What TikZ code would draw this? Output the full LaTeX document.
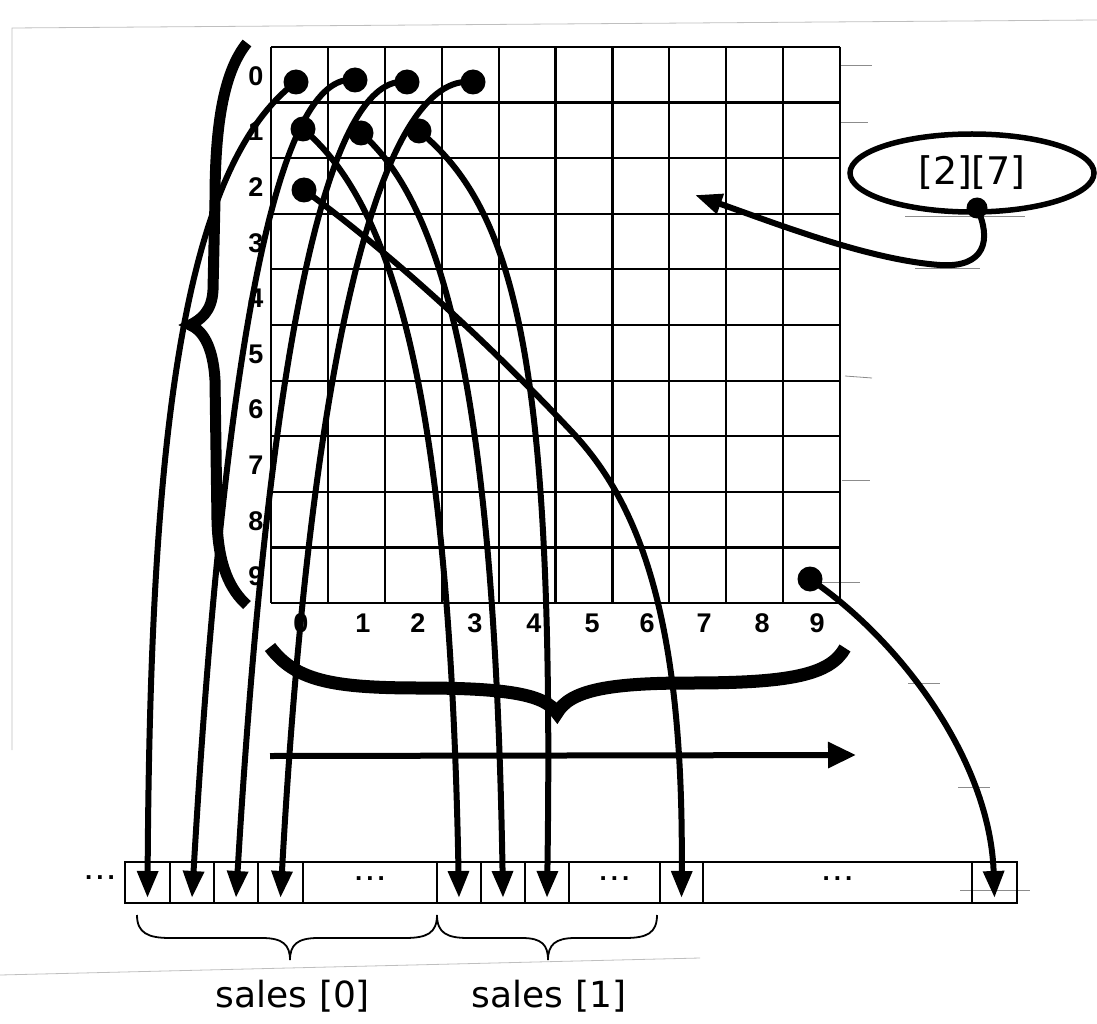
\documentclass[tikz,border=0pt]{standalone}
\usepackage{fontspec}
\newfontfamily\dvs{DejaVu Sans}
\newfontfamily\arl{Liberation Sans}
\usetikzlibrary{arrows.meta,shapes.geometric}
\begin{document}
\begin{tikzpicture}[x=1pt,y=-1pt,
  gridline/.style={line width=2.2pt},
  dotnode/.style={circle, fill=black, minimum size=25pt, inner sep=0pt},
  link/.style={line width=6pt, -{Triangle[length=27pt,width=20pt]}},
  cellbox/.style={draw, line width=2pt, minimum height=41pt, inner sep=0pt},
  lbl/.style={font=\arl\bfseries\fontsize{27}{27}\selectfont, inner sep=0pt},
  dots/.style={font=\arl\bfseries\fontsize{26}{26}\selectfont, inner sep=0pt},
  bigtxt/.style={font=\dvs\fontsize{36}{36}\selectfont, inner sep=0pt},
  thinbrace/.style={line width=1.8pt},
  thickbrace/.style={line width=13pt},
  scanedge/.style={line width=0.8pt, black!25},
  tick/.style={line width=0.8pt, black!45}
]
\useasboundingbox (0,0) rectangle (1097,1024);

% faint scan edges
\draw[scanedge] (12,750) -- (12,28) -- (1097,20);
\draw[scanedge] (0,975) -- (700,958);
\draw[tick] (840,65) -- (872,65);
\draw[tick] (840,122) -- (868,122);
\draw[tick] (845,376) -- (872,378);
\draw[tick] (842,480) -- (870,480);
\draw[tick] (800,582) -- (860,582);
\draw[tick] (905,216) -- (1025,216);
\draw[tick] (915,268) -- (980,268);
\draw[tick] (908,683) -- (940,683);
\draw[tick] (958,787) -- (990,787);
\draw[tick] (960,890) -- (1030,890);

% grid
\foreach \i in {0,...,10} {
  \draw[gridline] ({271+56.9*\i},47) -- ({271+56.9*\i},603);
  \draw[gridline] (271,{47+55.6*\i}) -- (840,{47+55.6*\i});
}

% row labels
\foreach \r in {0,...,9} {
  \node[lbl] (row\r) at (256,{76+55.6*\r}) {\r};
}
% column labels
\foreach \c/\x in {0/301,1/363,2/418,3/475,4/534,5/592,6/647,7/704,8/762,9/817} {
  \node[lbl] (col\c) at (\x,623) {\c};
}

% thick braces
\draw[thickbrace, line width=11pt] (247,43) .. controls (225,70) and (215,120) .. (215,200)
  -- (213,290) .. controls (212,312) and (200,320) .. (190,325)
  .. controls (202,330) and (213,345) .. (215,380)
  -- (217,520) .. controls (218,565) and (230,590) .. (247,605);
\draw[thickbrace] (270,647) .. controls (295,680) and (330,688) .. (420,688)
  .. controls (510,688) and (545,695) .. (557,713)
  .. controls (570,690) and (610,683) .. (690,683)
  .. controls (790,683) and (830,675) .. (845,648);

% horizontal arrow
\coordinate (ha) at (270,756);
\coordinate (hb) at (856,755);
\draw[line width=6pt, -{Triangle[length=28pt,width=25pt]}] (ha) -- (hb);

% bottom array
\foreach \n/\a/\b in {c0/125/170, c1/170/214, c2/214/258, c3/258/303, cdA/303/437,
  c10/437/481, c11/481/525, c12/525/569, cdB/569/660, c20/660/703, cdC/703/972, c99/972/1017} {
  \node[cellbox, minimum width={(\b-\a)*1pt}] (\n) at ({(\a+\b)/2},882.5) {};
}
\node[dots] (dl) at (100,878) {.\hspace{4pt}.\hspace{4pt}.};
\node[dots] (dA) at ([yshift=4pt]cdA) {.\hspace{4pt}.\hspace{4pt}.};
\node[dots] (dB) at ([yshift=4pt]cdB) {.\hspace{4pt}.\hspace{4pt}.};
\node[dots] (dC) at ([yshift=4pt]cdC) {.\hspace{4pt}.\hspace{4pt}.};

\foreach \n in {c0,c1,c2,c3,c10,c11,c12,c20,c99} {
  \coordinate (t\n) at ([yshift=6pt]\n.south);
}

% dots in the grid
\node[dotnode] (d00) at (296,82) {};
\node[dotnode] (d01) at (355,80) {};
\node[dotnode] (d02) at (407,82) {};
\node[dotnode] (d03) at (473,82) {};
\node[dotnode] (d10) at (303,129) {};
\node[dotnode] (d11) at (361,133) {};
\node[dotnode] (d12) at (419,131) {};
\node[dotnode] (d20) at (304,190) {};
\node[dotnode] (d99) at (810,579) {};

% connectors
\draw[link] (d00.center) .. controls (180,170) and (150,450) .. (tc0);
\draw[link] (d01.center) .. controls (280,70) and (225,330) .. (tc1);
\draw[link] (d02.center) .. controls (330,72) and (270,330) .. (tc2);
\draw[link] (d03.center) .. controls (385,72) and (312,330) .. (tc3);
\draw[link] (d10.center) .. controls (400,210) and (450,420) .. (tc10);
\draw[link] (d11.center) .. controls (450,210) and (495,420) .. (tc11);
\draw[link] (d12.center) .. controls (515,210) and (555,360) .. (tc12);
\draw[link] (d20.center) .. controls (400,260) and (500,355) .. (573,433)
  .. controls (640,505) and (684,620) .. (tc20);
\draw[link] (d99.center) .. controls (900,640) and (990,760) .. (tc99);

% ellipse [2][7]
\node[draw, ellipse, line width=5.5pt, minimum width=244pt, minimum height=78pt, inner sep=0pt,
  font=\dvs\fontsize{38}{38}\selectfont] (e) at (972,173) {[2][7]};
\node[dotnode, minimum size=21pt] (ed) at (977,208) {};
\coordinate (c27) at (695,195);
\draw[link] (ed.center) .. controls (992,240) and (985,268) .. (940,265)
  .. controls (870,260) and (780,225) .. (c27);

% thin braces and labels
\draw[thinbrace] (137,915) .. controls (137,933) and (148,938) .. (170,938) -- (262,938)
  .. controls (283,938) and (290,945) .. (290,960)
  .. controls (290,945) and (297,938) .. (318,938) -- (405,938)
  .. controls (427,938) and (437,933) .. (437,915);
\draw[thinbrace] (437,915) .. controls (437,933) and (447,938) .. (468,938) -- (522,938)
  .. controls (542,938) and (548,945) .. (548,960)
  .. controls (548,945) and (555,938) .. (575,938) -- (625,938)
  .. controls (647,938) and (657,933) .. (657,915);
\node[bigtxt] (s0) at (293,996) {sales [0]};
\node[bigtxt] (s1) at (549,996) {sales [1]};
\end{tikzpicture}
\end{document}
